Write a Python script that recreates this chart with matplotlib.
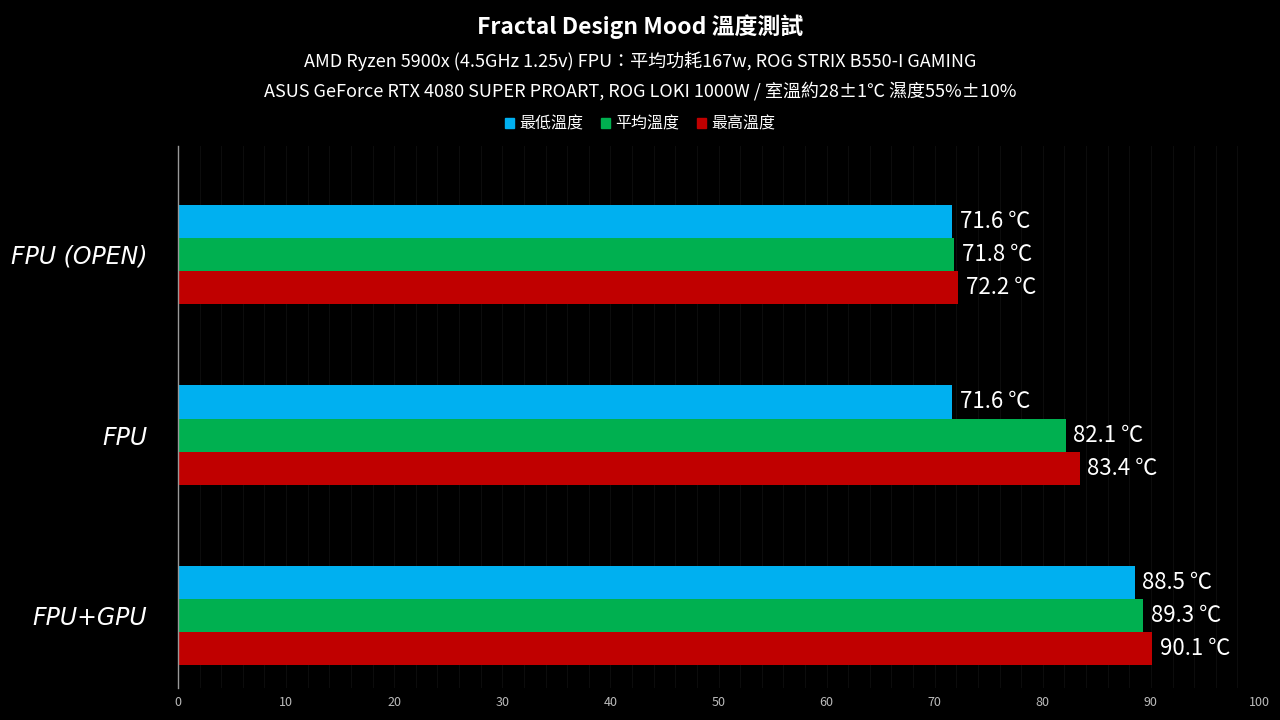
import numpy as np
import matplotlib
matplotlib.use("Agg")
import matplotlib.pyplot as plt
from matplotlib.patches import Patch

plt.rcParams["font.family"] = ["Noto Sans CJK TC", "DejaVu Sans"]

# data
categories = ["FPU (OPEN)", "FPU", "FPU+GPU"]
series_names = ["最低溫度", "平均溫度", "最高溫度"]
t_min = [71.6, 71.6, 88.5]
t_avg = [71.8, 82.1, 89.3]
t_max = [72.2, 83.4, 90.1]
colors = ["#00B0F0", "#00B050", "#C00000"]

title = "Fractal Design Mood 溫度測試"
sub1 = "AMD Ryzen 5900x (4.5GHz 1.25v) FPU：平均功耗167w, ROG STRIX B550-I GAMING"
sub2 = "ASUS GeForce RTX 4080 SUPER PROART, ROG LOKI 1000W / 室溫約28±1℃ 濕度55%±10%"

fig = plt.figure(figsize=(12.8, 7.2), dpi=100, facecolor="black")
ax = fig.add_axes([178 / 1280, 1 - 688 / 720, (1259 - 178) / 1280, (688 - 146) / 720])
ax.set_facecolor("black")

bh = 33 / 180
y = np.arange(len(categories))
for i, (vals, c) in enumerate(zip([t_min, t_avg, t_max], colors)):
    pos = y + (i - 1) * bh
    ax.barh(pos, vals, height=bh, color=c, zorder=2)
    for p, v in zip(pos, vals):
        ax.text(v + 0.7, p, f"{v} ℃", color="white", fontsize=16,
                va="center", ha="left", zorder=3)

ax.set_xlim(0, 100)
ax.set_ylim(2 + 72 / 180, -108 / 180)
ax.set_xticks(np.arange(0, 101, 10))
ax.set_xticks(np.arange(0, 101, 2), minor=True)
ax.grid(True, axis="x", which="both", color="#0c0c0c", lw=0.8, zorder=0)
ax.tick_params(axis="x", which="both", length=0, colors="#bbbbbb", labelsize=9, pad=6)
ax.set_yticks(y)
ax.set_yticklabels(categories, fontsize=17, color="white", fontstyle="italic",
                   family=["DejaVu Sans"])
ax.tick_params(axis="y", length=0, pad=22)
for s in ["top", "right", "bottom"]:
    ax.spines[s].set_visible(False)
ax.spines["left"].set_color("#999999")
ax.spines["left"].set_linewidth(1)

fig.text(0.5, 1 - 27 / 720, title, color="white", fontsize=16.5, fontweight="bold",
         ha="center", va="center")
fig.text(0.5, 1 - 61 / 720, sub1, color="white", fontsize=13, ha="center", va="center")
fig.text(0.5, 1 - 91 / 720, sub2, color="white", fontsize=13, ha="center", va="center")

handles = [Patch(color=c, label=n) for c, n in zip(colors, series_names)]
fig.legend(handles=handles, loc="center", bbox_to_anchor=(0.5, 1 - 124 / 720), ncol=3,
           frameon=False, fontsize=11.5, labelcolor="white", handlelength=0.6,
           handleheight=0.6, handletextpad=0.3, columnspacing=1.1)

fig.savefig("out.png", dpi=100, facecolor="black")
